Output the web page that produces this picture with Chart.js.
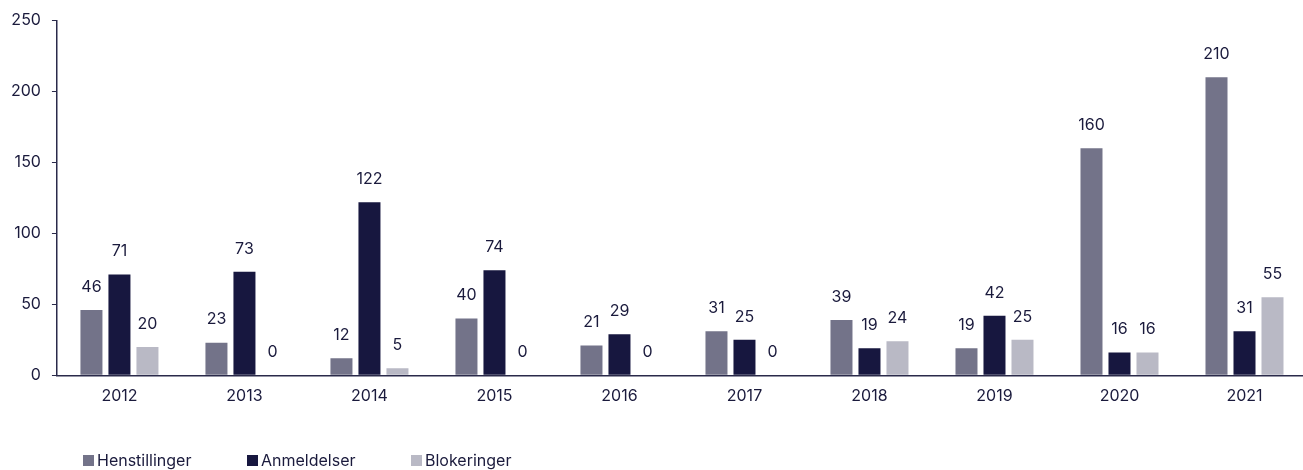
<!DOCTYPE html>
<html>
<head>
<meta charset="utf-8">
<script src="https://cdn.jsdelivr.net/npm/chart.js@4.4.0/dist/chart.umd.min.js"></script>
<style>
  html, body { margin: 0; padding: 0; background: #ffffff; }
  #wrap { position: relative; width: 1303px; height: 470px; overflow: hidden; }
  #c { position: absolute; left: 0; top: 0; }
  #legend { position: absolute; left: 83px; top: 450px; display: flex; font-family: "Inter", "Noto Sans", sans-serif; font-size: 16px; color: #1a1a3c; line-height: 20px; }
  .item { display: flex; align-items: center; width: 164px; }
  .box { width: 11px; height: 11px; margin-right: 3px; }
</style>
</head>
<body>
<div id="wrap">
  <canvas id="c" width="1307" height="470"></canvas>
  <div id="legend"></div>
</div>
<script>
const categories = ["2012","2013","2014","2015","2016","2017","2018","2019","2020","2021"];
const henstillinger = [46, 23, 12, 40, 21, 31, 39, 19, 160, 210];
const anmeldelser   = [71, 73, 122, 74, 29, 25, 19, 42, 16, 31];
const blokeringer   = [20, 0, 5, 0, 0, 0, 24, 25, 16, 55];
const seriesNames = ["Henstillinger", "Anmeldelser", "Blokeringer"];
const colors = ["#737389", "#17173f", "#b9b9c5"];
const yTicks = [0, 50, 100, 150, 200, 250];

const textColor = "#1a1a3c";
const fontFamily = '"Inter", "Noto Sans", sans-serif';
const fontSize = 16;

const valueLabels = {
  id: "valueLabels",
  afterDatasetsDraw(chart) {
    const ctx = chart.ctx;
    ctx.save();
    ctx.fillStyle = textColor;
    ctx.font = fontSize + "px " + fontFamily;
    ctx.textAlign = "center";
    ctx.textBaseline = "middle";
    chart.data.datasets.forEach((ds, i) => {
      const meta = chart.getDatasetMeta(i);
      meta.data.forEach((el, j) => {
        ctx.fillText(String(ds.data[j]), el.x, el.y - 23);
      });
    });
    ctx.restore();
  }
};

const data = {
  labels: categories,
  datasets: [henstillinger, anmeldelser, blokeringer].map((d, i) => ({
    label: seriesNames[i],
    data: d,
    backgroundColor: colors[i],
    categoryPercentage: 0.672,
    barPercentage: 0.786
  }))
};

new Chart(document.getElementById("c"), {
  type: "bar",
  data,
  plugins: [valueLabels],
  options: {
    responsive: false,
    animation: false,
    layout: { padding: { top: 16, right: 0, bottom: 53.5, left: 0 } },
    plugins: { legend: { display: false }, tooltip: { enabled: false } },
    scales: {
      x: {
        grid: { display: false, drawTicks: false },
        border: { display: true, color: "#2a2a4a", width: 1.5 },
        ticks: { color: textColor, font: { family: fontFamily, size: fontSize }, padding: 11 }
      },
      y: {
        min: 0, max: 250,
        afterBuildTicks(axis) { axis.ticks = yTicks.map(v => ({ value: v })); },
        grid: { drawOnChartArea: false, drawTicks: true, tickLength: 5, color: "#2a2a4a" },
        border: { display: true, color: "#2a2a4a", width: 1.5 },
        ticks: { color: textColor, font: { family: fontFamily, size: fontSize }, padding: 11 }
      }
    }
  }
});

const legend = document.getElementById("legend");
seriesNames.forEach((n, i) => {
  const it = document.createElement("div");
  it.className = "item";
  const b = document.createElement("div");
  b.className = "box";
  b.style.background = colors[i];
  const t = document.createElement("span");
  t.textContent = n;
  it.appendChild(b); it.appendChild(t);
  legend.appendChild(it);
});
</script>
</body>
</html>
